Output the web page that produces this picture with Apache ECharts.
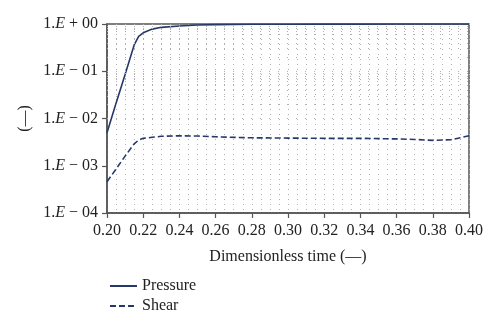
<!DOCTYPE html>
<html>
<head>
<meta charset="utf-8">
<script src="https://cdn.jsdelivr.net/npm/echarts@6/dist/echarts.min.js"></script>
<style>
  html, body { margin: 0; padding: 0; background: #fff; }
  #chart1 { width: 500px; height: 327px; }
</style>
</head>
<body>
<div id="chart1"></div>
<script>
// sample times (dimensionless) and the two normalised responses
var time = [0.200, 0.205, 0.210, 0.215, 0.2175, 0.220, 0.225, 0.230, 0.240, 0.250,
  0.260, 0.280, 0.300, 0.320, 0.340, 0.360, 0.370, 0.380, 0.390, 0.400]
var pressure = [0.005, 0.021, 0.085, 0.36, 0.55, 0.65, 0.78, 0.85, 0.91, 0.95,
  0.97, 0.985, 0.99, 0.993, 0.995, 0.997, 0.998, 0.999, 0.999, 1.0]
var shear = [4.6e-4, 8.5e-4, 1.6e-3, 2.9e-3, 3.5e-3, 3.8e-3, 4.0e-3, 4.2e-3, 4.3e-3, 4.25e-3,
  4.1e-3, 3.9e-3, 3.85e-3, 3.8e-3, 3.8e-3, 3.7e-3, 3.6e-3, 3.45e-3, 3.55e-3, 4.3e-3]
var seriesNames = ['Pressure', 'Shear']

// horizontal dotted grid at 1..9 x 10^k inside each decade
var gridLevels = []
for (var k = -4; k < 0; k++) {
  for (var m = 1; m <= 9; m++) {
    if (k === -4 && m === 1) continue
    gridLevels.push({ yAxis: m * Math.pow(10, k) })
  }
}

function pairs (ys) {
  return time.map(function (t, i) { return [t, ys[i]] })
}

var serif = 'Liberation Serif'
var navy = '#26386a'
var dotGrey = '#b0b0b0'

var charts = echarts.init(document.getElementById('chart1'))
var option = {
  animation: false,
  textStyle: { fontFamily: serif },
  grid: {
    left: 107, right: 31, top: 24, bottom: 114,
    show: true, borderColor: '#555', borderWidth: 1.5
  },
  legend: {
    orient: 'vertical',
    left: 104,
    top: 273,
    itemWidth: 27,
    itemHeight: 10,
    itemGap: 4,
    itemStyle: { opacity: 0 },
    textStyle: { fontFamily: serif, fontSize: 16, color: '#222' },
    data: seriesNames
  },
  xAxis: {
    type: 'value',
    min: 0.2,
    max: 0.4,
    interval: 0.02,
    name: 'Dimensionless time (—)',
    nameLocation: 'middle',
    nameGap: 36,
    nameTextStyle: { fontFamily: serif, fontSize: 16, color: '#222' },
    axisLine: { lineStyle: { color: '#555', width: 1.5 } },
    axisTick: { show: true, length: 5, lineStyle: { color: '#555', width: 1.2 } },
    axisLabel: {
      fontFamily: serif, fontSize: 16, color: '#222', margin: 10,
      formatter: function (v) { return v.toFixed(2) }
    },
    splitLine: { show: true, lineStyle: { color: dotGrey, type: [1, 4], width: 1 } },
    minorTick: { show: false, splitNumber: 4 },
    minorSplitLine: { show: true, lineStyle: { color: dotGrey, type: [1, 4], width: 1 } }
  },
  yAxis: {
    type: 'log',
    logBase: 10,
    min: 1e-4,
    max: 1,
    name: '(—)',
    nameLocation: 'middle',
    nameGap: 74,
    nameRotate: 90,
    nameTextStyle: { fontFamily: serif, fontSize: 16, color: '#222' },
    axisLine: { show: true, lineStyle: { color: '#555', width: 1.5 } },
    axisTick: { show: true, length: 5, lineStyle: { color: '#555', width: 1.2 } },
    splitLine: { show: false },
    axisLabel: {
      fontFamily: serif, fontSize: 16, color: '#222', margin: 9,
      formatter: function (v) {
        var e = Math.round(Math.log10(v))
        var sign = e < 0 ? '−' : '+'
        var n = Math.abs(e)
        return '1.{i|E} ' + sign + ' ' + (n < 10 ? '0' + n : n)
      },
      rich: { i: { fontFamily: serif, fontSize: 16, fontStyle: 'italic', color: '#222' } }
    }
  },
  series: [
    {
      name: 'Pressure',
      type: 'line',
      data: pairs(pressure),
      symbol: 'none',
      lineStyle: { color: navy, width: 1.6 },
      itemStyle: { color: navy },
      markLine: {
        silent: true,
        symbol: 'none',
        label: { show: false },
        lineStyle: { color: dotGrey, type: [1, 8], width: 1 },
        data: gridLevels
      }
    },
    {
      name: 'Shear',
      type: 'line',
      data: pairs(shear),
      symbol: 'none',
      lineStyle: { color: navy, width: 1.6, type: [6, 3] },
      itemStyle: { color: navy }
    }
  ]
}
charts.setOption(option)
window.addEventListener('resize', function () {
  charts.resize()
})
</script>
</body>
</html>
